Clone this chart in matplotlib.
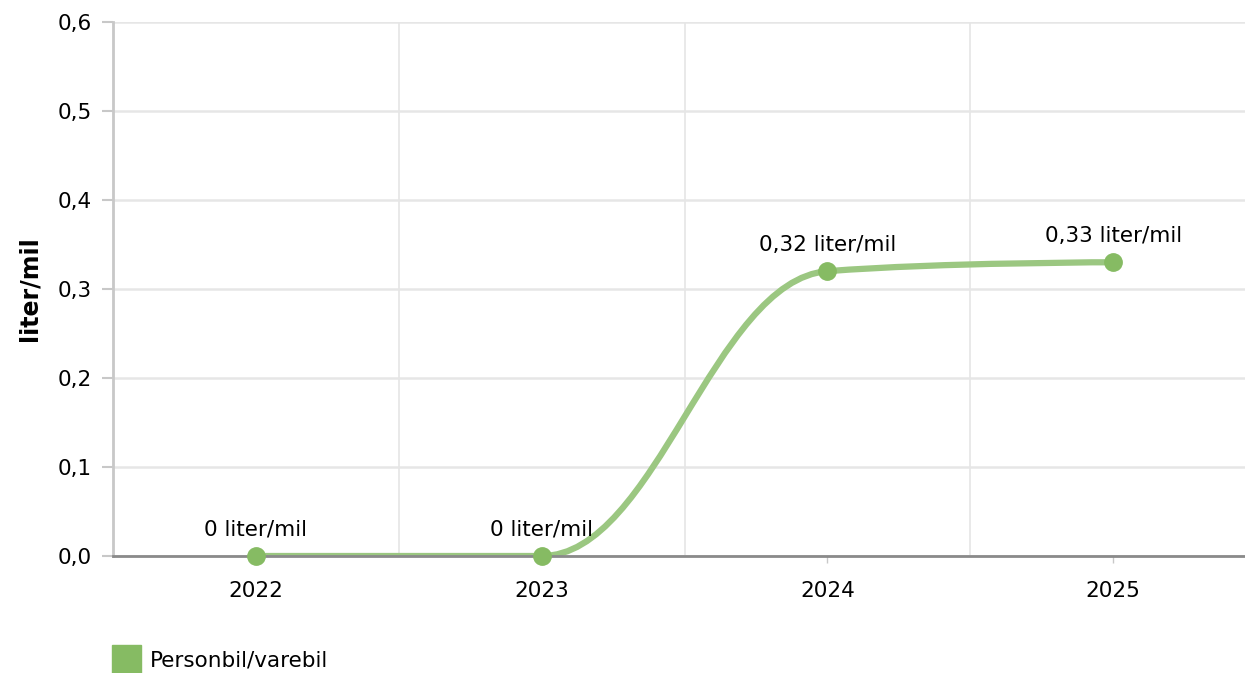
import numpy as np
import matplotlib
matplotlib.use("Agg")
import matplotlib.pyplot as plt
from matplotlib.path import Path
import matplotlib.patches as patches

# data
years = ["2022", "2023", "2024", "2025"]
values = [0.0, 0.0, 0.32, 0.33]
point_labels = ["0 liter/mil", "0 liter/mil", "0,32 liter/mil", "0,33 liter/mil"]
y_ticks = [0.0, 0.1, 0.2, 0.3, 0.4, 0.5, 0.6]
series_name = "Personbil/varebil"

line_col = "#9bc781"
dot_col = "#86bb63"
fs = 15.5


def spline_path(xs, ys, smoothing=1.5):
    # highcharts style spline, control points per point
    n = len(xs)
    lc = [(xs[i], ys[i]) for i in range(n)]
    rc = [(xs[i], ys[i]) for i in range(n)]
    d = smoothing + 1
    for i in range(1, n - 1):
        x, y = xs[i], ys[i]
        lx, ly = xs[i - 1], ys[i - 1]
        nx, ny = xs[i + 1], ys[i + 1]
        lcx = (smoothing * x + lx) / d
        lcy = (smoothing * y + ly) / d
        rcx = (smoothing * x + nx) / d
        rcy = (smoothing * y + ny) / d
        corr = ((rcy - lcy) * (rcx - x)) / (rcx - lcx) + y - rcy
        lcy += corr
        rcy += corr
        if lcy > ly and lcy > y:
            lcy = max(ly, y)
            rcy = 2 * y - lcy
        elif lcy < ly and lcy < y:
            lcy = min(ly, y)
            rcy = 2 * y - lcy
        if rcy > ny and rcy > y:
            rcy = max(ny, y)
            lcy = 2 * y - rcy
        elif rcy < ny and rcy < y:
            rcy = min(ny, y)
            lcy = 2 * y - rcy
        lc[i] = (lcx, lcy)
        rc[i] = (rcx, rcy)
    verts = [(xs[0], ys[0])]
    codes = [Path.MOVETO]
    for i in range(1, n):
        verts += [rc[i - 1], lc[i], (xs[i], ys[i])]
        codes += [Path.CURVE4] * 3
    return Path(verts, codes)


fig = plt.figure(figsize=(12.45, 6.73), dpi=100)
ax = fig.add_axes([113 / 1245, 117 / 673, 1143 / 1245, 534 / 673])

x = np.arange(len(years))
ax.set_xlim(-0.5, len(years) - 0.5)
ax.set_ylim(0, 0.6)

# grid
for b in np.arange(-0.5, len(years) + 0.5, 1):
    ax.axvline(b, color="#e3e3e3", lw=1.1, zorder=0)
for t in y_ticks:
    ax.axhline(t, color="#e6e6e6", lw=1.8, zorder=0)

p = patches.PathPatch(spline_path(list(x), values), facecolor="none",
                      edgecolor=line_col, lw=4.5, zorder=3, capstyle="round")
ax.add_patch(p)
ax.plot(x, values, "o", color=dot_col, ms=12.5, zorder=4, clip_on=False)

for xi, v, lab in zip(x, values, point_labels):
    ax.annotate(lab, (xi, v), xytext=(0, 12), textcoords="offset points",
                ha="center", va="bottom", fontsize=fs, color="black", zorder=5)

ax.set_xticks(x)
ax.set_xticklabels(years, fontsize=fs)
ax.set_yticks(y_ticks)
ax.set_yticklabels([f"{t:.1f}".replace(".", ",") for t in y_ticks], fontsize=fs)
ax.tick_params(axis="x", length=5, color="#c8c8c8", pad=13, width=1)
ax.tick_params(axis="y", length=8, color="#c8c8c8", pad=7, width=1.5)

for s in ["top", "right"]:
    ax.spines[s].set_visible(False)
ax.spines["left"].set_color("#c8c8c8")
ax.spines["left"].set_linewidth(2)
ax.spines["bottom"].set_color("#8a8a8a")
ax.spines["bottom"].set_linewidth(2)
ax.spines["bottom"].set_zorder(3.5)

ax.set_ylabel("liter/mil", fontsize=17, fontweight="bold", labelpad=12)

# legend
fig.patches.append(patches.Rectangle((112 / 1245, 0 / 673), 29 / 1245, 28 / 673,
                                     transform=fig.transFigure, color=dot_col))
fig.text(150 / 1245, 13 / 673, series_name, fontsize=fs, va="center", ha="left")

fig.savefig("out.png", dpi=100)
